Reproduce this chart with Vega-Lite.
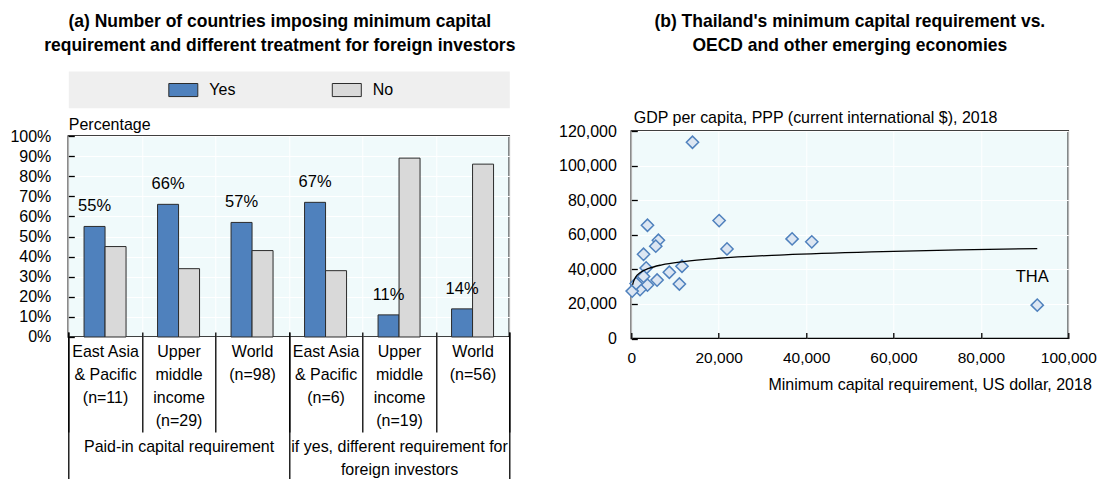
{
  "$schema": "https://vega.github.io/schema/vega-lite/v6.json",
  "background": "white",
  "padding": {"left": 8.3, "top": 12, "right": 0, "bottom": 0},
  "spacing": 41,
  "datasets": {
    "shares": [
      {"cat": "East Asia|& Pacific|(n=11)", "group": "Paid-in capital requirement", "answer": "Yes", "share": 0.55},
      {"cat": "East Asia|& Pacific|(n=11)", "group": "Paid-in capital requirement", "answer": "No", "share": 0.45},
      {"cat": "Upper|middle|income|(n=29)", "group": "Paid-in capital requirement", "answer": "Yes", "share": 0.66},
      {"cat": "Upper|middle|income|(n=29)", "group": "Paid-in capital requirement", "answer": "No", "share": 0.34},
      {"cat": "World|(n=98)", "group": "Paid-in capital requirement", "answer": "Yes", "share": 0.57},
      {"cat": "World|(n=98)", "group": "Paid-in capital requirement", "answer": "No", "share": 0.43},
      {"cat": "East Asia|& Pacific|(n=6)", "group": "if yes, different requirement for|foreign investors", "answer": "Yes", "share": 0.67},
      {"cat": "East Asia|& Pacific|(n=6)", "group": "if yes, different requirement for|foreign investors", "answer": "No", "share": 0.33},
      {"cat": "Upper|middle|income|(n=19)", "group": "if yes, different requirement for|foreign investors", "answer": "Yes", "share": 0.11},
      {"cat": "Upper|middle|income|(n=19)", "group": "if yes, different requirement for|foreign investors", "answer": "No", "share": 0.89},
      {"cat": "World|(n=56)", "group": "if yes, different requirement for|foreign investors", "answer": "Yes", "share": 0.14},
      {"cat": "World|(n=56)", "group": "if yes, different requirement for|foreign investors", "answer": "No", "share": 0.86}
    ],
    "economies": [
      {"capital": 14000, "gdp": 113500},
      {"capital": 20100, "gdp": 68200},
      {"capital": 3700, "gdp": 65500},
      {"capital": 6200, "gdp": 56800},
      {"capital": 5600, "gdp": 53400},
      {"capital": 2800, "gdp": 48700},
      {"capital": 21900, "gdp": 51800},
      {"capital": 36800, "gdp": 57600},
      {"capital": 41300, "gdp": 55900},
      {"capital": 11600, "gdp": 41800},
      {"capital": 8700, "gdp": 38300},
      {"capital": 3400, "gdp": 40800},
      {"capital": 2800, "gdp": 35900},
      {"capital": 5900, "gdp": 33800},
      {"capital": 11000, "gdp": 31500},
      {"capital": 3700, "gdp": 30900},
      {"capital": 2000, "gdp": 28300},
      {"capital": 200, "gdp": 27400},
      {"capital": 1100, "gdp": 31800},
      {"capital": 92900, "gdp": 19300, "code": "THA"}
    ],
    "trend": [
      {"capital": 300, "gdp": 31100},
      {"capital": 500, "gdp": 32900},
      {"capital": 1000, "gdp": 35500},
      {"capital": 2000, "gdp": 38000},
      {"capital": 4000, "gdp": 40500},
      {"capital": 7000, "gdp": 42600},
      {"capital": 12000, "gdp": 44500},
      {"capital": 20000, "gdp": 46400},
      {"capital": 35000, "gdp": 48400},
      {"capital": 55000, "gdp": 50100},
      {"capital": 75000, "gdp": 51200},
      {"capital": 92900, "gdp": 52000}
    ]
  },
  "hconcat": [
    {
      "spacing": 6,
      "resolve": {"scale": {"color": "independent"}, "legend": {"color": "independent"}},
      "vconcat": [
        {
          "width": 441,
          "height": 36.7,
          "title": {
            "text": ["(a) Number of countries imposing minimum capital", "requirement and different treatment for foreign investors"],
            "frame": "group",
            "dx": -9,
            "offset": 16.5
          },
          "view": {"fill": "#EFEFEF", "stroke": "transparent"},
          "data": {"name": "shares"},
          "mark": {"type": "point", "filled": true, "opacity": 0},
          "encoding": {
            "color": {
              "field": "answer",
              "type": "nominal",
              "sort": ["Yes", "No"],
              "scale": {"domain": ["Yes", "No"], "range": ["#4F81BD", "#D9D9D9"]},
              "legend": {
                "orient": "none",
                "legendX": 100,
                "legendY": 3.8,
                "direction": "horizontal",
                "title": null,
                "padding": 0,
                "symbolType": "M-1,-0.45L1,-0.45L1,0.45L-1,0.45Z",
                "symbolSize": 841,
                "symbolStrokeColor": "#2b2b2b",
                "symbolStrokeWidth": 1,
                "symbolOpacity": 1,
                "labelOffset": 11,
                "columnPadding": 93.5,
                "labelFontSize": 16
              }
            }
          }
        },
        {
          "width": 441,
          "height": 201,
          "layer": [
            {
              "data": {"name": "shares"},
              "encoding": {
                "x": {
                  "field": "cat",
                  "type": "nominal",
                  "sort": ["East Asia|& Pacific|(n=11)", "Upper|middle|income|(n=29)", "World|(n=98)", "East Asia|& Pacific|(n=6)", "Upper|middle|income|(n=19)", "World|(n=56)"],
                  "scale": {"paddingInner": 0, "paddingOuter": 0},
                  "axis": {
                    "title": null,
                    "orient": "bottom",
                    "offset": -5,
                    "domain": false,
                    "tickBand": "extent",
                    "tickSize": 100,
                    "tickWidth": 1.3,
                    "tickColor": "black",
                    "labelAngle": 0,
                    "labelBaseline": "top",
                    "labelPadding": -88,
                    "labelLineHeight": 23,
                    "labelExpr": "split(datum.label, '|')",
                    "labelLimit": 200,
                    "labelOverlap": false,
                    "grid": true
                  }
                },
                "xOffset": {
                  "field": "answer",
                  "type": "nominal",
                  "sort": ["Yes", "No"],
                  "scale": {"paddingInner": 0, "paddingOuter": 0.75}
                },
                "y": {
                  "field": "share",
                  "type": "quantitative",
                  "scale": {"domain": [0, 1], "nice": false},
                  "axis": {
                    "values": [0, 0.1, 0.2, 0.3, 0.4, 0.5, 0.6, 0.7, 0.8, 0.9, 1],
                    "format": ".0%",
                    "labelOverlap": false,
                    "title": "Percentage",
                    "titleAngle": 0,
                    "titleAlign": "left",
                    "titleBaseline": "bottom",
                    "titleX": 0,
                    "titleY": -4,
                    "tickSize": -6,
                    "tickColor": "black",
                    "tickWidth": 1.3,
                    "domain": false,
                    "labelPadding": 23.5,
                    "grid": true
                  }
                }
              },
              "layer": [
                {
                  "mark": {"type": "bar", "stroke": "#2b2b2b", "strokeWidth": 1},
                  "encoding": {
                    "color": {
                      "field": "answer",
                      "type": "nominal",
                      "sort": ["Yes", "No"],
                      "scale": {"domain": ["Yes", "No"], "range": ["#4F81BD", "#D9D9D9"]},
                      "legend": null
                    }
                  }
                },
                {
                  "transform": [{"filter": "datum.answer == 'Yes'"}],
                  "mark": {"type": "text", "baseline": "middle", "dy": -20, "fontSize": 16.5},
                  "encoding": {
                    "text": {"field": "share", "type": "quantitative", "format": ".0%"}
                  }
                }
              ]
            },
            {
              "data": {"name": "shares"},
              "mark": {"type": "rule", "opacity": 0},
              "encoding": {
                "x": {
                  "field": "group",
                  "type": "nominal",
                  "sort": ["Paid-in capital requirement", "if yes, different requirement for|foreign investors"],
                  "scale": {"paddingInner": 0, "paddingOuter": 0},
                  "axis": {
                    "title": null,
                    "orient": "bottom",
                    "offset": -5,
                    "domain": false,
                    "tickBand": "extent",
                    "tickSize": 150,
                    "tickWidth": 1.3,
                    "tickColor": "black",
                    "labelAngle": 0,
                    "labelBaseline": "top",
                    "labelPadding": -43,
                    "labelLineHeight": 23,
                    "labelExpr": "split(datum.label, '|')",
                    "labelLimit": 400,
                    "labelOverlap": false,
                    "grid": false
                  }
                }
              }
            }
          ],
          "resolve": {"scale": {"x": "independent"}}
        }
      ]
    },
    {
      "spacing": 0,
      "vconcat": [
        {
          "width": 437,
          "height": 36.2,
          "title": {
            "text": ["(b) Thailand's minimum capital requirement vs.", "OECD and other emerging economies"],
            "frame": "group",
            "offset": 16.5
          },
          "view": {"fill": "transparent", "stroke": "transparent"},
          "data": {"name": "economies"},
          "mark": {"type": "point", "opacity": 0}
        },
        {
          "width": 437,
          "height": 207.5,
          "encoding": {
            "x": {
              "field": "capital",
              "type": "quantitative",
              "scale": {"domain": [0, 100000], "nice": false},
              "axis": {
                "values": [0, 20000, 40000, 60000, 80000, 100000],
                "labelExpr": "format(datum.value, ',')",
                "labelFontSize": 15.5,
                "tickSize": -6,
                "tickColor": "black",
                "tickWidth": 1.3,
                "domain": false,
                "labelFlush": false,
                "labelOverlap": false,
                "labelPadding": 18,
                "grid": true,
                "title": "Minimum capital requirement, US dollar, 2018",
                "titleX": 460,
                "titleY": 46,
                "titleAlign": "right",
                "titleBaseline": "middle"
              }
            },
            "y": {
              "field": "gdp",
              "type": "quantitative",
              "scale": {"domain": [0, 120000], "nice": false},
              "axis": {
                "values": [0, 20000, 40000, 60000, 80000, 100000, 120000],
                "labelExpr": "format(datum.value, ',')",
                "labelOverlap": false,
                "tickSize": -6,
                "tickColor": "black",
                "tickWidth": 1.3,
                "domain": false,
                "labelPadding": 21,
                "grid": true,
                "title": "GDP per capita, PPP (current international $), 2018",
                "titleAngle": 0,
                "titleAlign": "left",
                "titleBaseline": "bottom",
                "titleX": 2,
                "titleY": -6
              }
            }
          },
          "layer": [
            {
              "data": {"name": "economies"},
              "mark": {"type": "point", "shape": "diamond", "filled": true, "fill": "#DCE6F2", "stroke": "#4F81BD", "strokeWidth": 1.5, "size": 150, "opacity": 1}
            },
            {
              "data": {"name": "trend"},
              "mark": {"type": "line", "color": "black", "strokeWidth": 1.3, "interpolate": "monotone"}
            },
            {
              "data": {"name": "economies"},
              "transform": [{"filter": "datum.code == 'THA'"}],
              "mark": {"type": "text", "baseline": "middle", "dx": -5, "dy": -28, "fontSize": 16.5},
              "encoding": {
                "text": {"field": "code", "type": "nominal"}
              }
            }
          ]
        }
      ]
    }
  ],
  "config": {
    "font": "Liberation Sans, Arial, sans-serif",
    "view": {"fill": "#F0FAFB", "stroke": "black", "strokeWidth": 1.5},
    "axis": {
      "labelColor": "black",
      "titleColor": "black",
      "labelFontSize": 16,
      "titleFontSize": 16,
      "titleFontWeight": "normal",
      "gridColor": "white",
      "gridWidth": 1
    },
    "legend": {"labelFontSize": 16, "labelColor": "black"},
    "title": {"fontSize": 17.5, "fontWeight": "bold", "color": "black", "lineHeight": 24, "anchor": "middle"},
    "text": {"color": "black"}
  }
}
